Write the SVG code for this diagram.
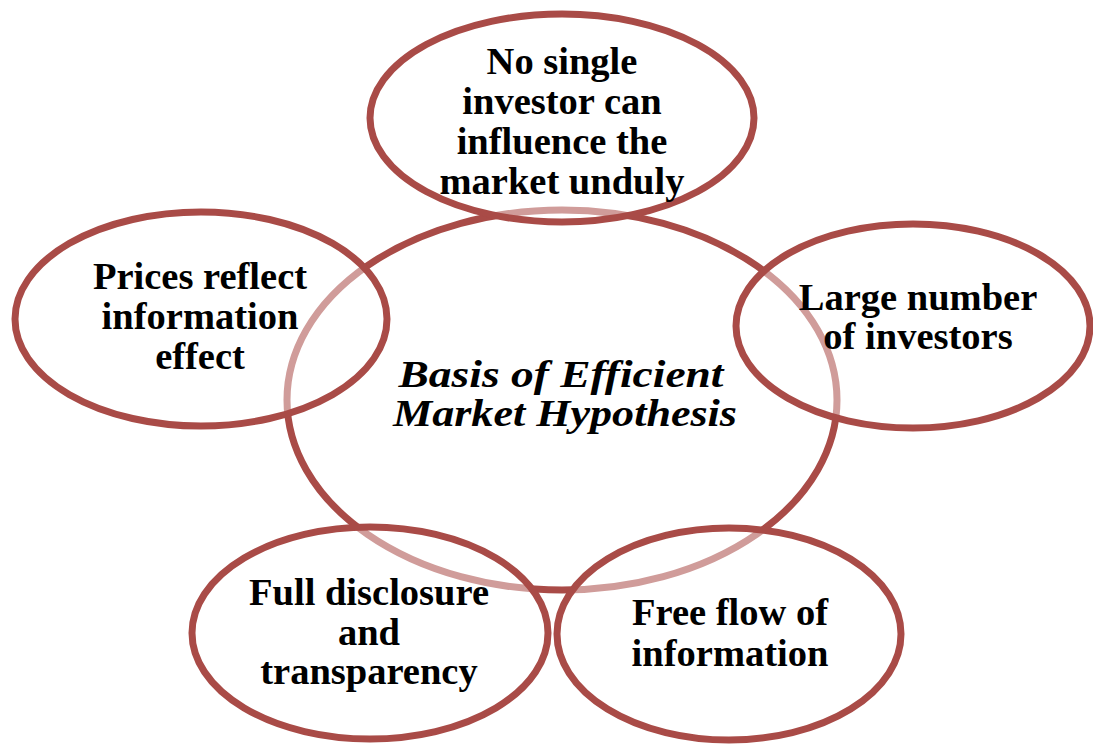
<svg xmlns="http://www.w3.org/2000/svg" width="1093" height="747" viewBox="0 0 1093 747">
<style>
.ring{fill:none;stroke:#a94b47;stroke-width:7}
.outer{fill:#ffffff;fill-opacity:0.45;stroke:#a94b47;stroke-width:7}
.t{font-family:"Liberation Serif","Times New Roman",serif;font-weight:bold;font-size:38.5px;fill:#000;text-anchor:middle}
.c{font-style:italic;font-size:37px}
</style>
<rect width="1093" height="747" fill="#ffffff"/>
<g id="center">
<ellipse class="ring" cx="562" cy="400" rx="275" ry="190"/>
</g>
<g id="top">
<ellipse class="outer" cx="562" cy="118" rx="192" ry="104"/>
<text class="t" x="562" y="74">No single</text>
<text class="t" x="562" y="114">investor can</text>
<text class="t" x="562" y="154">influence the</text>
<text class="t" x="562" y="194">market unduly</text>
</g>
<g id="left">
<ellipse class="outer" cx="201" cy="319" rx="186" ry="107"/>
<text class="t" x="200" y="289">Prices reflect</text>
<text class="t" x="200" y="329">information</text>
<text class="t" x="200" y="369">effect</text>
</g>
<g id="right">
<ellipse class="outer" cx="913" cy="326" rx="177" ry="102"/>
<text class="t" x="918" y="310">Large number</text>
<text class="t" x="918" y="349">of investors</text>
</g>
<g id="bottomleft">
<ellipse class="outer" cx="370" cy="633" rx="178" ry="106"/>
<text class="t" x="369" y="605">Full disclosure</text>
<text class="t" x="369" y="645">and</text>
<text class="t" x="369" y="684">transparency</text>
</g>
<g id="bottomright">
<ellipse class="outer" cx="729" cy="634" rx="172" ry="106"/>
<text class="t" x="730" y="625">Free flow of</text>
<text class="t" x="730" y="666">information</text>
</g>
<g id="centerlabel">
<text class="t c" x="561" y="387" textLength="325" lengthAdjust="spacingAndGlyphs">Basis of Efficient</text>
<text class="t c" x="565" y="426" textLength="344" lengthAdjust="spacingAndGlyphs">Market Hypothesis</text>
</g>
<g id="connectors"></g>
</svg>
